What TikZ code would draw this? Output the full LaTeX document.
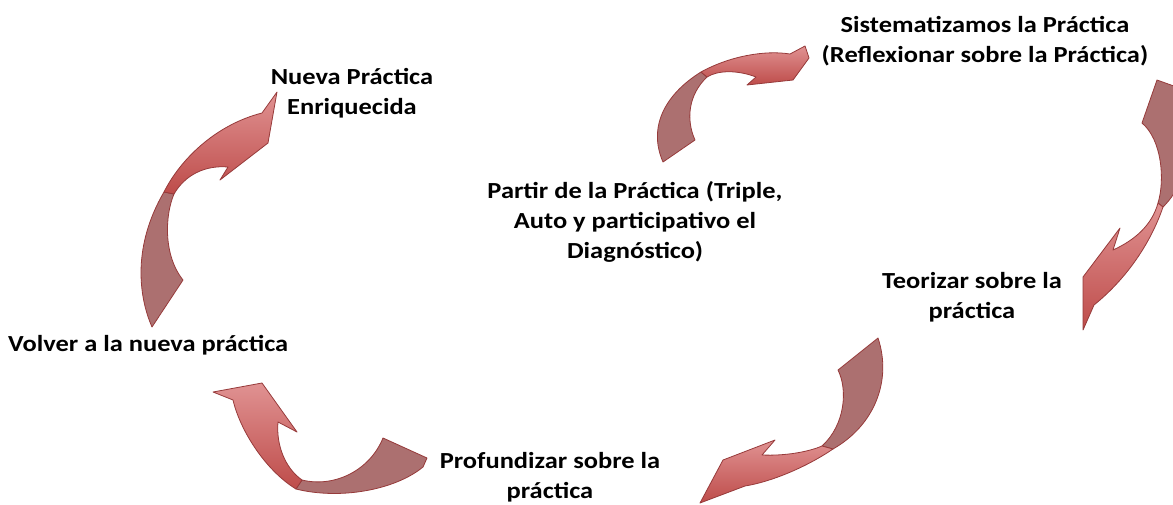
\documentclass[tikz,border=0pt]{standalone}
\usepackage{fontspec}
\setmainfont{Carlito}[FakeStretch=1.15]
\usepackage{tikz}
\definecolor{headred}{RGB}{205,100,100}
\definecolor{headlight}{RGB}{224,146,146}
\definecolor{headdark}{RGB}{190,76,74}
\definecolor{tailred}{RGB}{172,112,112}
\definecolor{rimred}{RGB}{150,58,58}
\tikzset{lbl/.style={font=\bfseries\fontsize{23}{30}\selectfont, align=center, inner sep=0pt}}
\tikzset{headpart/.style={top color=headlight, bottom color=headdark, draw=rimred, line width=0.8pt, line join=round}}
\tikzset{tailpart/.style={fill=tailred, draw=rimred, line width=0.8pt, line join=round}}

\begin{document}
\begin{tikzpicture}[x=1pt,y=-1pt]
    \path[use as bounding box] (0,0) rectangle (1173,504);

    \node[lbl] at (985,41) (sist) {Sistematizamos la Práctica\\(Reflexionar sobre la Práctica)};
    \node[lbl] at (352,93) (nueva) {Nueva Práctica\\Enriquecida};
    \node[lbl] at (635,222) (partir) {Partir de la Práctica (Triple,\\Auto y participativo el\\Diagnóstico)};
    \node[lbl] at (972,297) (teor) {Teorizar sobre la\\práctica};
    \node[lbl, anchor=west] at (8,345) (volver) {Volver a la nueva práctica};
    \node[lbl] at (550,477) (prof) {Profundizar sobre la\\práctica};

    % partir -> sistematizamos
    \path[tailpart] (663,162) .. controls (648,128) and (664,95) .. (701,72) -- (707,77)
        .. controls (688,95) and (686,120) .. (695,140) -- cycle;
    \path[headpart] (701,72) .. controls (730,56) and (765,50) .. (790,54) -- (805,46) -- (809,58)
        -- (793,80) -- (747,85) -- (756,77) .. controls (738,70) and (718,70) .. (707,77) -- cycle;

    % sistematizamos -> teorizar
    \path[tailpart] (1142,123) -- (1157,80) -- (1185,90) -- (1185,170)
        .. controls (1178,190) and (1170,200) .. (1163,207) -- (1158,203)
        .. controls (1165,180) and (1162,140) .. (1142,123) -- cycle;
    \path[headpart] (1163,207) .. controls (1150,245) and (1125,280) .. (1094,305) -- (1083,330)
        -- (1083,277) -- (1120,228) -- (1113,250) .. controls (1135,240) and (1152,225) .. (1158,203) -- cycle;

    % teorizar -> profundizar
    \path[tailpart] (838,370) -- (878,338) .. controls (892,380) and (875,425) .. (833,449) -- (822,446)
        .. controls (845,425) and (848,390) .. (838,370) -- cycle;
    \path[headpart] (833,449) .. controls (805,468) and (770,482) .. (745,486) -- (700,503) -- (723,460)
        -- (775,440) -- (762,455) .. controls (785,456) and (808,452) .. (822,446) -- cycle;

    % profundizar -> volver
    \path[tailpart] (383,438) -- (427,458) -- (423,467) .. controls (395,490) and (340,500) .. (296,489)
        -- (302,480) .. controls (335,488) and (370,470) .. (383,438) -- cycle;
    \path[headpart] (296,489) .. controls (265,470) and (240,430) .. (233,400) -- (213,392) -- (262,383)
        -- (297,432) -- (278,422) .. controls (276,445) and (285,468) .. (302,480) -- cycle;

    % volver -> nueva
    \path[tailpart] (152,327) .. controls (138,295) and (133,245) .. (164,192) -- (174,194)
        .. controls (165,215) and (163,255) .. (183,280) -- cycle;
    \path[headpart] (164,192) .. controls (180,160) and (215,125) .. (262,113) -- (277,92) -- (268,143)
        -- (220,180) -- (228,167) .. controls (205,165) and (185,175) .. (174,194) -- cycle;
\end{tikzpicture}
\end{document}
